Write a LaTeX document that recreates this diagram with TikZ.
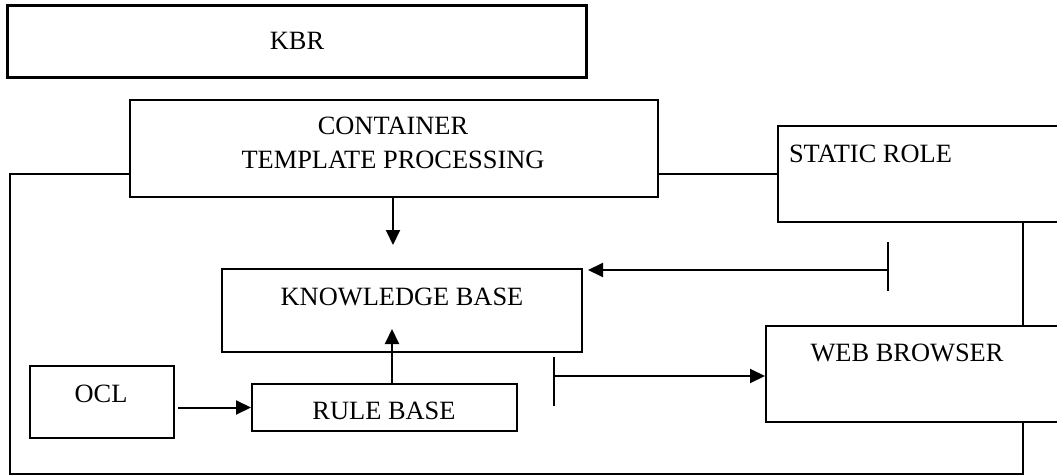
\documentclass[tikz,border=0pt]{standalone}
\usepackage{fontspec}
\setmainfont{Liberation Serif}
\usetikzlibrary{arrows.meta}

\def\ux{1pt}
\def\uy{-1pt}

\begin{document}
\begin{tikzpicture}[x=\ux,y=\uy, line width=2pt, font=\fontsize{26.4}{33}\selectfont]
		\tikzset{
			blk/.style={draw, rectangle, inner sep=0pt},
			lbl/.style={anchor=base, inner sep=0pt},
			link/.style={-{Triangle[length=15pt,width=14pt]}},
		}
		\useasboundingbox (0,0) rectangle (1057,476);
		\clip (0,0) rectangle (1057,476);

		% boxes: name / centre x / centre y / width / height
		\foreach \n/\cx/\cy/\w/\h in {ctp/394/148.5/528/97, sr/929/174/302/96,
			kb/402/310.5/360/83, ocl/102/402/144/72, rb/384.5/407.5/265/47,
			wb/923/374/314/96}{
			\node[blk, minimum width=\w pt, minimum height=\h pt] (\n) at (\cx,\cy) {};
		}
		\node[blk, line width=3pt, minimum width=579pt, minimum height=72pt] (kbr) at (296.5,42) {};

		% texts, set on their base lines
		\foreach \n/\x/\y/\txt in {kbr-t/297/50/KBR, ctp-t1/393/135/CONTAINER,
			ctp-t2/393/168/TEMPLATE PROCESSING, kb-t/402/305/KNOWLEDGE BASE,
			ocl-t/101/402/OCL, rb-t/384/419/RULE BASE, wb-t/907/361/WEB BROWSER}{
			\node[lbl] (\n) at (\x,\y) {\txt};
		}
		\node[lbl, anchor=base west] (sr-t) at (788,162) {STATIC ROLE};

		\coordinate (tl) at (10,174);
		\coordinate (bl) at (10,474);
		\coordinate (br) at (1023,474);
		\coordinate (kb-in) at (393,245);
		\coordinate (kb-up) at (392,329);
		\coordinate (sr-tap) at (888,270);
		\coordinate (wb-tap) at (554,376);

		% loop round the whole thing
		\draw (ctp.east |- sr.west) -- (sr.west);
		\draw (ctp.west |- tl) -- (tl) -- (bl) -- (br) -- (br |- wb.south);
		\draw (sr.south -| br) -- (wb.north -| br);

		\draw[link] (ctp.south -| kb-in) -- (kb-in);
		\draw[link] (rb.north -| kb-up) -- (kb-up);
		\draw[link] ([xshift=3pt]ocl.east |- rb.west) -- (rb.west);

		% taps with their end bars
		\draw ([yshift=28pt]sr-tap) -- ([yshift=-21pt]sr-tap);
		\draw[link] (sr-tap) -- ([xshift=5pt]kb.north east |- sr-tap);
		\draw ([yshift=19pt]wb-tap) -- ([yshift=-30pt]wb-tap);
		\draw[link] (wb-tap) -- (wb.west |- wb-tap);

\end{tikzpicture}
\end{document}
